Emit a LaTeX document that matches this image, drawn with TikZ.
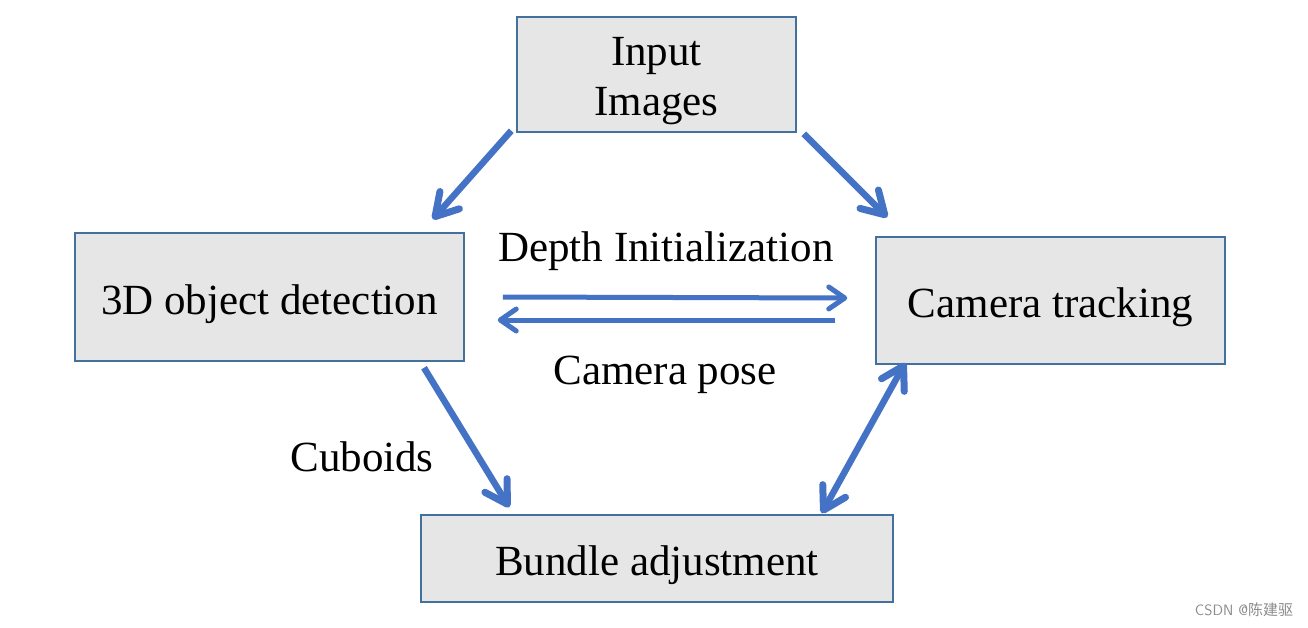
\documentclass[tikz,border=0pt]{standalone}
\usepackage{fontspec}
\setmainfont{Liberation Serif}
\newfontfamily\cjkfont{Noto Sans CJK SC}
\usetikzlibrary{arrows.meta,calc}
\definecolor{arrowblue}{HTML}{4472C4}
\definecolor{boxborder}{HTML}{41719C}
\definecolor{boxfill}{HTML}{E7E6E6}
\tikzset{
  box/.style={draw=boxborder, line width=1.5pt, fill=boxfill, inner sep=0pt},
  lbl/.style={inner sep=0pt, align=center, font=\fontsize{43}{50}\selectfont},
  boxtext/.style={label={[lbl, yshift=-7pt]center:#1}},
  conn/.style={draw=arrowblue, line width=6.5pt,
    -{Straight Barb[length=22pt,width=26pt,line width=7pt,round]}},
  hconn/.style={draw=arrowblue, line width=5pt,
    -{Straight Barb[length=16pt,width=22pt,line width=5pt,round]}},
  bconn/.style={draw=arrowblue, line width=6.5pt,
    {Straight Barb[length=22pt,width=26pt,line width=7pt,round]}-{Straight Barb[length=22pt,width=26pt,line width=7pt,round]}},
}
\begin{document}
\begin{tikzpicture}[x=1pt,y=-1pt]
\useasboundingbox (0,0) rectangle (1308,627);
\fill[white] (0,0) rectangle (1308,627);
\node[box, minimum width=279pt, minimum height=115pt, boxtext={Input\\Images}] (in) at (656.5,74.5) {};
\node[box, minimum width=389pt, minimum height=128pt, boxtext={3D object detection}] (det) at (269.5,297) {};
\node[box, minimum width=349pt, minimum height=127pt, boxtext={Camera tracking}] (cam) at (1050.5,300.5) {};
\node[box, minimum width=472pt, minimum height=87pt, boxtext={Bundle adjustment}] (ba) at (657,558.5) {};

\node[lbl] (depth) at (666,251) {Depth Initialization};
\node[lbl] (pose) at (665,375) {Camera pose};
\node[lbl] (cub) at (362,457) {Cuboids};

\draw[conn] ($(in.south west)+(-5,-2)$) -- ($(det.north east)+(-32,-13)$);
\draw[conn] ($(in.south east)+(7,1)$) -- ($(cam.north west)+(12,-19)$);
\draw[hconn] ($(det.east)+(38,0)$) -- ($(cam.west)+(-28,-2.5)$);
\draw[hconn] ($(cam.west)+(-40,19.5)$) -- ($(det.east)+(33,23)$);
\draw[conn] ($(det.south)+(154.5,6)$) -- ($(ba.north west)+(89,-7)$);
\draw[bconn] ($(cam.south west)+(30,-2)$) -- ($(ba.north east)+(-72,-1)$);

\node[inner sep=0pt, text=black!45, font=\fontsize{15}{17}\selectfont] (wm) at (1244,610) {\sffamily CSDN @{\cjkfont 陈建驱}};
\end{tikzpicture}
\end{document}
